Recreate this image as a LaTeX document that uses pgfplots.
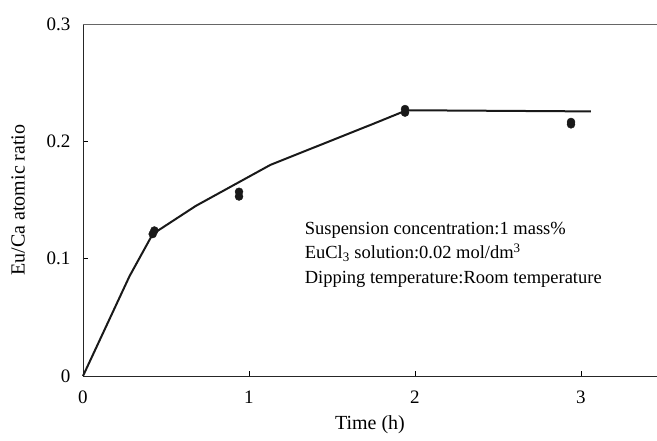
\documentclass[border=0pt]{standalone}
\usepackage{pgfplots}
\pgfplotsset{compat=1.18}
\usepackage{fontspec}
\setmainfont{Liberation Serif}

\begin{document}
\begin{tikzpicture}
\begin{axis}[
    at={(0,0)}, anchor=south west,
    scale only axis,
    width=574pt, height=352pt,
    xmin=0, xmax=3.458,
    ymin=0, ymax=0.3,
    xtick={0,1,2,3},
    ytick={0,0.1,0.2,0.3},
    xtick pos=bottom, ytick pos=left,
    tick align=inside,
    major tick length=5pt,
    tick style={black, line width=0.6pt},
    /pgf/number format/assume math mode=true,
    /pgf/number format/fixed,
    ticklabel style={font=\fontsize{19}{22}\selectfont},
    xticklabel style={yshift=-11pt},
    yticklabel style={xshift=-9pt},
    label style={font=\fontsize{20}{24}\selectfont},
    xlabel={Time (h)},
    ylabel={Eu/Ca atomic ratio},
    xlabel style={at={(axis description cs:0.5,-0.139)}, anchor=center},
    ylabel style={at={(axis description cs:-0.113,0.5)}, anchor=center},
    axis line style={draw=none},
    clip=false,
]
\draw[black!85, line width=0.8pt] (rel axis cs:0,1) -- (rel axis cs:0,0) -- (rel axis cs:1,0);
\draw[black!60, line width=0.9pt] (rel axis cs:0,1) -- (rel axis cs:1,1);

\addplot[black!90, line width=2pt] coordinates {
    (0,0) (0.28,0.085) (0.42,0.121) (0.68,0.145) (1.13,0.180)
    (1.75,0.215) (1.95,0.2265) (3.06,0.2255)
};
\addplot[only marks, mark=*, mark size=4pt, black!90] coordinates {
    (0.42,0.121) (0.43,0.124) (0.94,0.157) (0.94,0.153)
    (1.94,0.2275) (1.94,0.2245) (2.94,0.2165) (2.94,0.2145)
};

\node[anchor=north west, align=left, inner sep=0pt, font=\fontsize{18.5}{24.5}\selectfont]
    at (axis cs:1.335,0.1314)
    {Suspension concentration:1 mass\%\\
     EuCl\textsubscript{3} solution:0.02 mol/dm\textsuperscript{3}\\
     Dipping temperature:Room temperature};
\end{axis}
\pgfresetboundingbox
\useasboundingbox (-83pt,-64pt) rectangle (574pt,376pt);
\end{tikzpicture}
\end{document}
